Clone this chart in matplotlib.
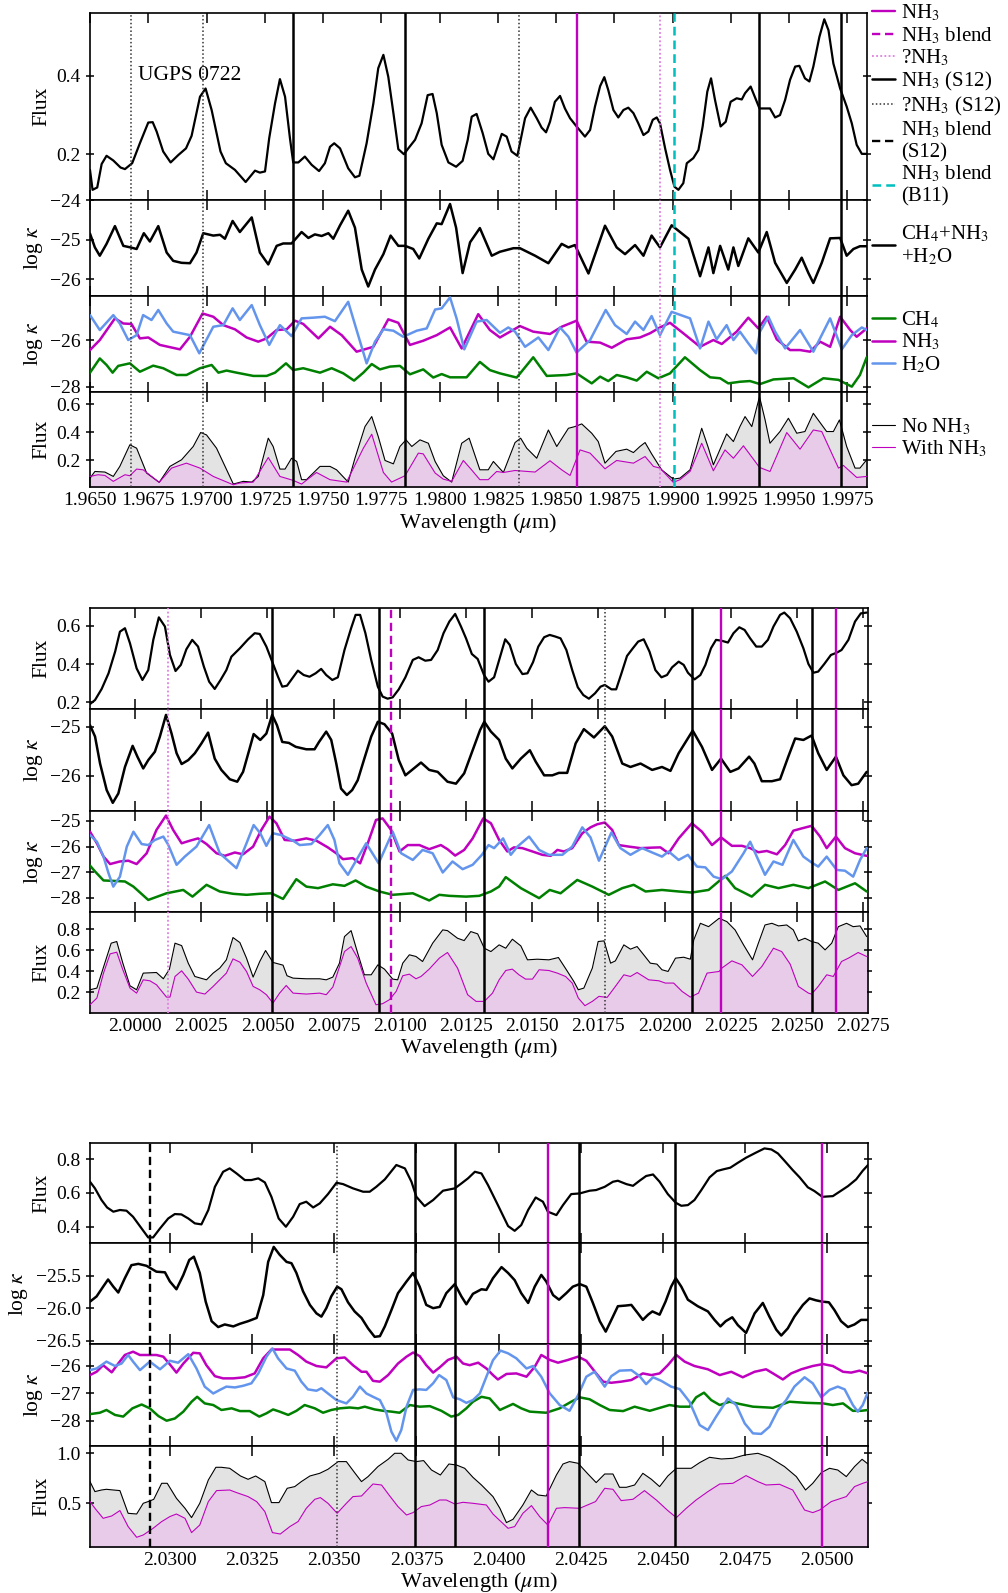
import numpy as np
import matplotlib
matplotlib.use("Agg")
import matplotlib.pyplot as plt
from matplotlib.lines import Line2D
from matplotlib.ticker import FuncFormatter, FormatStrFormatter, MultipleLocator

plt.rcParams['font.family'] = ['Liberation Serif', 'DejaVu Serif']
plt.rcParams['mathtext.fontset'] = 'stix'
plt.rcParams['font.size'] = 14
plt.rcParams['axes.labelsize'] = 15.5
plt.rcParams['axes.linewidth'] = 1.2
plt.rcParams['lines.solid_joinstyle'] = 'round'
plt.rcParams['lines.solid_capstyle'] = 'round'

# ---------------------------------------------------------------- data
# Window 1 (1.965 - 1.998 um)
g1_flux = [(1.96500,0.160),(1.96511,0.109),(1.96531,0.115),(1.96550,0.175),(1.96571,0.196),(1.96600,0.184),(1.96631,0.166),(1.96650,0.162),(1.96681,0.177),(1.96714,0.228),(1.96750,0.281),(1.96769,0.282),(1.96786,0.258),(1.96814,0.207),(1.96846,0.179),(1.96879,0.198),(1.96912,0.215),(1.96936,0.247),(1.96972,0.347),(1.96996,0.368),(1.97022,0.313),(1.97060,0.207),(1.97083,0.177),(1.97122,0.160),(1.97168,0.129),(1.97208,0.158),(1.97229,0.153),(1.97251,0.156),(1.97269,0.241),(1.97294,0.330),(1.97315,0.392),(1.97337,0.347),(1.97358,0.241),(1.97372,0.179),(1.97394,0.179),(1.97422,0.194),(1.97451,0.173),(1.97483,0.157),(1.97508,0.177),(1.97530,0.219),(1.97548,0.228),(1.97573,0.215),(1.97608,0.164),(1.97637,0.141),(1.97656,0.145),(1.97687,0.228),(1.97716,0.330),(1.97737,0.420),(1.97759,0.454),(1.97780,0.398),(1.97802,0.305),(1.97823,0.213),(1.97847,0.200),(1.97866,0.215),(1.97895,0.237),(1.97923,0.279),(1.97949,0.351),(1.97970,0.354),(1.97988,0.305),(1.98009,0.224),(1.98038,0.179),(1.98071,0.168),(1.98099,0.183),(1.98121,0.237),(1.98138,0.296),(1.98159,0.303),(1.98185,0.254),(1.98209,0.201),(1.98231,0.187),(1.98267,0.252),(1.98288,0.245),(1.98309,0.207),(1.98334,0.196),(1.98367,0.292),(1.98391,0.319),(1.98417,0.292),(1.98438,0.268),(1.98457,0.256),(1.98474,0.283),(1.98495,0.334),(1.98517,0.349),(1.98538,0.317),(1.98560,0.292),(1.98588,0.271),(1.98624,0.245),(1.98646,0.262),(1.98667,0.322),(1.98689,0.374),(1.98707,0.397),(1.98724,0.364),(1.98746,0.313),(1.98767,0.294),(1.98789,0.313),(1.98810,0.319),(1.98832,0.305),(1.98853,0.279),(1.98875,0.249),(1.98896,0.258),(1.98915,0.288),(1.98932,0.294),(1.98946,0.279),(1.98968,0.215),(1.98989,0.160),(1.99008,0.117),(1.99025,0.109),(1.99046,0.126),(1.99061,0.177),(1.99089,0.190),(1.99111,0.211),(1.99129,0.271),(1.99149,0.360),(1.99165,0.394),(1.99182,0.339),(1.99206,0.271),(1.99228,0.283),(1.99249,0.334),(1.99275,0.343),(1.99297,0.340),(1.99311,0.356),(1.99335,0.373),(1.99373,0.317),(1.99418,0.317),(1.99440,0.294),(1.99461,0.300),(1.99483,0.339),(1.99504,0.390),(1.99526,0.424),(1.99544,0.426),(1.99568,0.394),(1.99587,0.386),(1.99604,0.424),(1.99630,0.500),(1.99651,0.545),(1.99669,0.517),(1.99690,0.432),(1.99719,0.368),(1.99747,0.322),(1.99769,0.279),(1.99790,0.224),(1.99812,0.201),(1.99833,0.201)]
g1_total = [(1.96500,-24.85),(1.96521,-25.20),(1.96542,-25.41),(1.96571,-25.11),(1.96607,-24.66),(1.96643,-25.16),(1.96674,-25.20),(1.96700,-25.24),(1.96731,-24.84),(1.96757,-25.05),(1.96793,-24.66),(1.96829,-25.33),(1.96857,-25.54),(1.96893,-25.59),(1.96929,-25.60),(1.96957,-25.33),(1.96986,-24.84),(1.97029,-24.90),(1.97058,-24.88),(1.97079,-24.98),(1.97112,-24.53),(1.97143,-24.81),(1.97194,-24.44),(1.97229,-25.33),(1.97265,-25.63),(1.97301,-25.16),(1.97329,-25.10),(1.97365,-25.10),(1.97408,-24.81),(1.97437,-24.96),(1.97465,-24.87),(1.97494,-24.91),(1.97523,-24.84),(1.97544,-24.98),(1.97573,-24.64),(1.97608,-24.27),(1.97637,-24.70),(1.97666,-25.76),(1.97694,-26.19),(1.97723,-25.76),(1.97759,-25.37),(1.97790,-24.90),(1.97823,-25.16),(1.97852,-25.16),(1.97887,-25.24),(1.97913,-25.48),(1.97952,-24.98),(1.97988,-24.59),(1.98009,-24.61),(1.98045,-24.10),(1.98071,-24.70),(1.98099,-25.85),(1.98131,-25.07),(1.98173,-24.71),(1.98224,-25.41),(1.98259,-25.31),(1.98317,-25.22),(1.98345,-25.22),(1.98410,-25.41),(1.98467,-25.60),(1.98524,-25.11),(1.98553,-25.20),(1.98581,-25.14),(1.98639,-25.86),(1.98710,-24.65),(1.98760,-25.20),(1.98796,-25.37),(1.98839,-25.14),(1.98875,-25.41),(1.98910,-24.90),(1.98946,-25.20),(1.98996,-24.64),(1.99068,-24.98),(1.99118,-25.93),(1.99154,-25.20),(1.99175,-25.85),(1.99204,-25.16),(1.99239,-25.76),(1.99261,-25.20),(1.99282,-25.67),(1.99325,-24.97),(1.99368,-25.33),(1.99404,-24.81),(1.99440,-25.59),(1.99490,-26.10),(1.99526,-25.76),(1.99554,-25.46),(1.99583,-25.85),(1.99604,-26.10),(1.99640,-25.59),(1.99676,-24.97),(1.99719,-24.96),(1.99747,-25.41),(1.99776,-25.24),(1.99804,-25.17),(1.99833,-25.17)]
g1_ch4 = [(1.96500,-27.40),(1.96542,-26.79),(1.96571,-27.07),(1.96597,-27.40),(1.96621,-27.11),(1.96671,-27.00),(1.96714,-27.36),(1.96771,-27.10),(1.96814,-27.21),(1.96872,-27.50),(1.96914,-27.50),(1.96972,-27.21),(1.97022,-27.07),(1.97051,-27.40),(1.97086,-27.31),(1.97129,-27.40),(1.97201,-27.54),(1.97258,-27.54),(1.97294,-27.40),(1.97341,-27.00),(1.97372,-27.29),(1.97415,-27.21),(1.97487,-27.40),(1.97537,-27.21),(1.97587,-27.43),(1.97633,-27.74),(1.97673,-27.40),(1.97709,-27.03),(1.97744,-27.26),(1.97787,-27.14),(1.97830,-27.11),(1.97873,-27.47),(1.97930,-27.26),(1.97973,-27.61),(1.98009,-27.46),(1.98045,-27.60),(1.98116,-27.60),(1.98173,-26.94),(1.98216,-27.29),(1.98259,-27.43),(1.98331,-27.61),(1.98402,-26.74),(1.98460,-27.54),(1.98546,-27.50),(1.98588,-27.43),(1.98653,-27.86),(1.98689,-27.57),(1.98724,-27.76),(1.98760,-27.50),(1.98803,-27.60),(1.98846,-27.74),(1.98889,-27.36),(1.98939,-27.64),(1.98989,-27.43),(1.99053,-26.74),(1.99118,-27.29),(1.99161,-27.60),(1.99204,-27.64),(1.99239,-27.86),(1.99289,-27.79),(1.99332,-27.76),(1.99375,-27.89),(1.99433,-27.69),(1.99519,-27.64),(1.99583,-28.03),(1.99647,-27.64),(1.99712,-27.71),(1.99769,-28.00),(1.99804,-27.50),(1.99833,-26.74)]
g1_nh3 = [(1.96500,-26.43),(1.96542,-26.00),(1.96607,-25.07),(1.96643,-25.29),(1.96678,-25.31),(1.96714,-25.93),(1.96750,-25.89),(1.96800,-26.21),(1.96836,-26.29),(1.96886,-26.40),(1.96929,-25.86),(1.96983,-24.86),(1.97029,-25.00),(1.97072,-25.36),(1.97122,-25.54),(1.97172,-25.89),(1.97222,-26.07),(1.97258,-25.93),(1.97301,-25.57),(1.97344,-25.54),(1.97380,-25.17),(1.97415,-25.31),(1.97480,-25.93),(1.97530,-25.43),(1.97580,-25.79),(1.97644,-26.50),(1.97716,-26.29),(1.97780,-25.11),(1.97823,-25.26),(1.97873,-26.21),(1.97930,-26.03),(1.97988,-25.79),(1.98045,-25.46),(1.98095,-26.36),(1.98166,-24.89),(1.98216,-25.57),(1.98259,-25.89),(1.98345,-25.40),(1.98402,-25.64),(1.98474,-25.74),(1.98524,-25.43),(1.98588,-25.17),(1.98631,-26.07),(1.98689,-26.11),(1.98739,-26.33),(1.98803,-25.97),(1.98860,-25.89),(1.98903,-25.71),(1.98946,-25.46),(1.98989,-25.26),(1.99046,-25.71),(1.99118,-26.29),(1.99175,-26.00),(1.99211,-26.17),(1.99275,-25.64),(1.99325,-25.04),(1.99368,-25.50),(1.99404,-25.00),(1.99447,-25.97),(1.99504,-26.43),(1.99547,-26.43),(1.99590,-26.50),(1.99633,-26.07),(1.99676,-26.29),(1.99719,-25.00),(1.99762,-25.57),(1.99790,-25.86),(1.99833,-25.50)]
g1_h2o = [(1.96500,-24.93),(1.96542,-25.57),(1.96600,-24.93),(1.96628,-25.29),(1.96664,-26.00),(1.96700,-25.79),(1.96728,-24.93),(1.96764,-25.14),(1.96793,-24.71),(1.96829,-25.29),(1.96857,-25.64),(1.96929,-25.79),(1.96969,-26.57),(1.97029,-25.43),(1.97072,-25.36),(1.97112,-24.64),(1.97143,-25.14),(1.97194,-24.50),(1.97229,-25.36),(1.97269,-26.21),(1.97315,-25.36),(1.97365,-25.83),(1.97408,-25.07),(1.97458,-25.04),(1.97508,-25.00),(1.97551,-25.19),(1.97608,-24.36),(1.97644,-25.57),(1.97687,-27.00),(1.97723,-26.07),(1.97759,-25.54),(1.97802,-25.60),(1.97844,-25.86),(1.97902,-25.60),(1.97945,-25.50),(1.97981,-24.69),(1.98009,-24.64),(1.98045,-24.17),(1.98073,-25.07),(1.98106,-26.40),(1.98159,-25.21),(1.98202,-25.14),(1.98259,-25.69),(1.98295,-25.46),(1.98324,-25.64),(1.98367,-26.29),(1.98424,-25.89),(1.98467,-26.43),(1.98517,-25.46),(1.98553,-25.86),(1.98588,-26.54),(1.98646,-26.00),(1.98713,-24.71),(1.98753,-25.36),(1.98803,-25.74),(1.98839,-25.21),(1.98875,-25.57),(1.98910,-24.97),(1.98946,-25.79),(1.98996,-24.79),(1.99075,-25.07),(1.99118,-26.36),(1.99154,-25.21),(1.99189,-25.97),(1.99232,-25.36),(1.99261,-26.00),(1.99289,-25.64),(1.99325,-26.14),(1.99358,-26.57),(1.99375,-25.64),(1.99411,-25.00),(1.99440,-25.64),(1.99483,-26.36),(1.99547,-25.57),(1.99604,-26.50),(1.99676,-25.07),(1.99726,-26.40),(1.99769,-25.79),(1.99812,-25.46),(1.99833,-25.57)]
g1_no_nh3 = [(1.96500,0.075),(1.96521,0.122),(1.96564,0.118),(1.96600,0.087),(1.96628,0.158),(1.96671,0.311),(1.96700,0.287),(1.96743,0.111),(1.96797,0.045),(1.96843,0.158),(1.96893,0.205),(1.96943,0.299),(1.96975,0.398),(1.97000,0.381),(1.97043,0.287),(1.97115,0.033),(1.97158,0.052),(1.97194,0.047),(1.97222,0.087),(1.97265,0.358),(1.97286,0.299),(1.97315,0.139),(1.97337,0.139),(1.97365,0.216),(1.97387,0.193),(1.97408,0.064),(1.97429,0.064),(1.97487,0.158),(1.97530,0.158),(1.97558,0.134),(1.97608,0.047),(1.97637,0.216),(1.97680,0.440),(1.97709,0.511),(1.97737,0.369),(1.97766,0.200),(1.97802,0.176),(1.97830,0.299),(1.97856,0.346),(1.97881,0.299),(1.97916,0.346),(1.97952,0.322),(1.97981,0.193),(1.98016,0.092),(1.98052,0.047),(1.98095,0.322),(1.98127,0.358),(1.98173,0.134),(1.98209,0.134),(1.98231,0.193),(1.98274,0.115),(1.98324,0.327),(1.98348,0.358),(1.98374,0.287),(1.98417,0.216),(1.98467,0.416),(1.98503,0.299),(1.98553,0.428),(1.98581,0.440),(1.98610,0.459),(1.98653,0.393),(1.98681,0.334),(1.98710,0.181),(1.98757,0.264),(1.98803,0.280),(1.98832,0.256),(1.98860,0.299),(1.98882,0.327),(1.98910,0.247),(1.98953,0.134),(1.99003,0.068),(1.99032,0.075),(1.99075,0.134),(1.99125,0.428),(1.99154,0.287),(1.99175,0.169),(1.99232,0.388),(1.99261,0.334),(1.99289,0.440),(1.99311,0.511),(1.99340,0.440),(1.99373,0.652),(1.99397,0.487),(1.99418,0.322),(1.99461,0.405),(1.99497,0.499),(1.99533,0.393),(1.99568,0.405),(1.99604,0.534),(1.99661,0.405),(1.99690,0.405),(1.99716,0.487),(1.99747,0.299),(1.99783,0.146),(1.99804,0.146),(1.99833,0.205)]
g1_with_nh3 = [(1.96500,0.087),(1.96535,0.099),(1.96564,0.094),(1.96600,0.052),(1.96650,0.099),(1.96671,0.092),(1.96700,0.139),(1.96728,0.134),(1.96797,0.045),(1.96850,0.146),(1.96914,0.181),(1.96972,0.146),(1.97029,0.087),(1.97115,0.028),(1.97143,0.040),(1.97201,0.047),(1.97265,0.221),(1.97315,0.087),(1.97372,0.059),(1.97408,0.033),(1.97472,0.115),(1.97530,0.064),(1.97601,0.047),(1.97673,0.287),(1.97709,0.386),(1.97759,0.115),(1.97794,0.047),(1.97852,0.092),(1.97909,0.252),(1.97930,0.247),(1.97981,0.111),(1.98016,0.068),(1.98052,0.052),(1.98102,0.200),(1.98131,0.146),(1.98173,0.064),(1.98209,0.064),(1.98245,0.122),(1.98274,0.115),(1.98324,0.129),(1.98410,0.118),(1.98474,0.198),(1.98524,0.134),(1.98560,0.094),(1.98603,0.275),(1.98646,0.252),(1.98710,0.141),(1.98760,0.200),(1.98832,0.181),(1.98882,0.228),(1.98918,0.158),(1.98946,0.146),(1.99003,0.045),(1.99032,0.064),(1.99075,0.122),(1.99125,0.322),(1.99175,0.127),(1.99225,0.275),(1.99261,0.216),(1.99304,0.304),(1.99373,0.151),(1.99418,0.122),(1.99490,0.398),(1.99547,0.280),(1.99604,0.416),(1.99640,0.405),(1.99712,0.146),(1.99733,0.165),(1.99790,0.080),(1.99833,0.087)]

# Window 2 (1.998 - 2.028 um)
g2_flux = [(1.99830,0.191),(1.99849,0.212),(1.99874,0.270),(1.99900,0.352),(1.99925,0.466),(1.99943,0.570),(1.99962,0.588),(1.99981,0.509),(2.00006,0.378),(2.00028,0.317),(2.00050,0.369),(2.00069,0.527),(2.00090,0.645),(2.00113,0.597),(2.00132,0.448),(2.00153,0.364),(2.00173,0.396),(2.00194,0.478),(2.00216,0.527),(2.00238,0.492),(2.00260,0.387),(2.00280,0.308),(2.00301,0.270),(2.00323,0.317),(2.00345,0.369),(2.00364,0.439),(2.00396,0.483),(2.00427,0.530),(2.00452,0.562),(2.00471,0.558),(2.00496,0.492),(2.00518,0.413),(2.00540,0.334),(2.00556,0.282),(2.00574,0.287),(2.00594,0.326),(2.00615,0.366),(2.00637,0.343),(2.00659,0.334),(2.00682,0.352),(2.00703,0.375),(2.00722,0.343),(2.00745,0.317),(2.00766,0.331),(2.00791,0.474),(2.00816,0.588),(2.00833,0.658),(2.00850,0.658),(2.00870,0.562),(2.00892,0.422),(2.00917,0.282),(2.00935,0.230),(2.00954,0.219),(2.00973,0.226),(2.00996,0.268),(2.01021,0.331),(2.01049,0.422),(2.01071,0.436),(2.01096,0.418),(2.01118,0.422),(2.01143,0.474),(2.01165,0.562),(2.01187,0.623),(2.01209,0.663),(2.01231,0.597),(2.01250,0.535),(2.01272,0.453),(2.01294,0.427),(2.01318,0.343),(2.01335,0.308),(2.01356,0.331),(2.01377,0.431),(2.01398,0.530),(2.01415,0.501),(2.01438,0.401),(2.01463,0.348),(2.01482,0.352),(2.01503,0.410),(2.01523,0.492),(2.01545,0.541),(2.01566,0.553),(2.01586,0.545),(2.01607,0.535),(2.01629,0.474),(2.01651,0.369),(2.01672,0.279),(2.01693,0.238),(2.01714,0.219),(2.01737,0.247),(2.01758,0.282),(2.01774,0.291),(2.01799,0.268),(2.01817,0.268),(2.01837,0.352),(2.01858,0.443),(2.01880,0.483),(2.01900,0.518),(2.01921,0.530),(2.01943,0.465),(2.01965,0.369),(2.01988,0.331),(2.02009,0.343),(2.02028,0.383),(2.02053,0.413),(2.02072,0.396),(2.02088,0.355),(2.02113,0.320),(2.02135,0.343),(2.02154,0.396),(2.02175,0.483),(2.02194,0.527),(2.02214,0.523),(2.02239,0.513),(2.02260,0.562),(2.02282,0.593),(2.02302,0.579),(2.02323,0.535),(2.02346,0.492),(2.02367,0.492),(2.02390,0.527),(2.02411,0.597),(2.02436,0.658),(2.02452,0.670),(2.02474,0.640),(2.02499,0.570),(2.02524,0.483),(2.02543,0.401),(2.02562,0.355),(2.02580,0.361),(2.02603,0.401),(2.02628,0.448),(2.02650,0.460),(2.02668,0.474),(2.02694,0.527),(2.02719,0.623),(2.02741,0.666),(2.02763,0.670)]
g2_total = [(1.99830,-24.97),(1.99849,-25.20),(1.99868,-25.75),(1.99893,-26.29),(1.99916,-26.55),(1.99937,-26.36),(1.99962,-25.82),(1.99991,-25.39),(2.00009,-25.61),(2.00031,-25.85),(2.00050,-25.68),(2.00075,-25.51),(2.00094,-25.20),(2.00117,-24.76),(2.00138,-25.14),(2.00157,-25.54),(2.00176,-25.76),(2.00201,-25.68),(2.00226,-25.54),(2.00251,-25.34),(2.00276,-25.12),(2.00301,-25.65),(2.00326,-25.88),(2.00358,-26.07),(2.00386,-26.12),(2.00408,-25.92),(2.00431,-25.48),(2.00448,-25.15),(2.00473,-25.27),(2.00496,-25.14),(2.00518,-24.76),(2.00536,-24.97),(2.00556,-25.31),(2.00581,-25.33),(2.00607,-25.41),(2.00647,-25.46),(2.00678,-25.46),(2.00695,-25.31),(2.00722,-25.10),(2.00741,-25.27),(2.00760,-25.75),(2.00778,-26.26),(2.00800,-26.39),(2.00820,-26.29),(2.00841,-26.09),(2.00866,-25.65),(2.00892,-25.20),(2.00917,-24.90),(2.00942,-24.95),(2.00971,-25.14),(2.00996,-25.68),(2.01021,-25.99),(2.01046,-25.88),(2.01080,-25.73),(2.01111,-25.88),(2.01143,-25.92),(2.01180,-26.12),(2.01212,-26.16),(2.01243,-25.95),(2.01275,-25.48),(2.01303,-25.07),(2.01319,-24.90),(2.01344,-25.10),(2.01375,-25.27),(2.01400,-25.65),(2.01425,-25.85),(2.01457,-25.65),(2.01491,-25.48),(2.01513,-25.71),(2.01545,-25.99),(2.01576,-25.99),(2.01601,-25.94),(2.01632,-25.94),(2.01664,-25.34),(2.01695,-25.05),(2.01733,-25.22),(2.01774,-24.99),(2.01802,-25.20),(2.01840,-25.75),(2.01871,-25.82),(2.01909,-25.75),(2.01953,-25.88),(2.01990,-25.82),(2.02022,-25.90),(2.02053,-25.54),(2.02106,-25.08),(2.02141,-25.41),(2.02179,-25.88),(2.02213,-25.65),(2.02248,-25.92),(2.02279,-25.85),(2.02319,-25.61),(2.02339,-25.75),(2.02367,-26.11),(2.02405,-26.11),(2.02436,-26.07),(2.02467,-25.61),(2.02493,-25.24),(2.02524,-25.27),(2.02555,-25.18),(2.02580,-25.54),(2.02612,-25.88),(2.02647,-25.61),(2.02675,-25.99),(2.02706,-26.19),(2.02731,-26.16),(2.02763,-25.92)]
g2_ch4 = [(1.99830,-26.74),(1.99849,-26.97),(1.99881,-27.32),(1.99925,-27.34),(1.99962,-27.36),(1.99994,-27.56),(2.00050,-28.08),(2.00119,-27.82),(2.00182,-27.69),(2.00217,-27.95),(2.00270,-27.49),(2.00320,-27.75),(2.00370,-27.84),(2.00421,-27.88),(2.00471,-27.84),(2.00515,-27.82),(2.00559,-28.04),(2.00609,-27.27),(2.00647,-27.56),(2.00691,-27.62),(2.00747,-27.47),(2.00791,-27.53),(2.00833,-27.32),(2.00873,-27.56),(2.00923,-27.75),(2.00973,-27.88),(2.01049,-27.82),(2.01111,-28.10),(2.01149,-27.88),(2.01187,-27.92),(2.01250,-27.95),(2.01300,-27.92),(2.01344,-27.75),(2.01375,-27.56),(2.01400,-27.19),(2.01457,-27.62),(2.01526,-28.01),(2.01566,-27.69),(2.01607,-27.82),(2.01670,-27.30),(2.01727,-27.56),(2.01789,-27.88),(2.01840,-27.62),(2.01883,-27.49),(2.01928,-27.75),(2.01990,-27.69),(2.02053,-27.75),(2.02103,-27.79),(2.02166,-27.69),(2.02229,-27.14),(2.02266,-27.62),(2.02329,-27.95),(2.02379,-27.49),(2.02430,-27.62),(2.02486,-27.49),(2.02543,-27.62),(2.02606,-27.36),(2.02656,-27.69),(2.02719,-27.43),(2.02763,-27.75)]
g2_nh3 = [(1.99830,-25.42),(1.99856,-25.87),(1.99881,-26.39),(1.99906,-26.68),(1.99943,-26.58),(1.99975,-26.55),(2.00006,-26.68),(2.00044,-26.26),(2.00081,-25.35),(2.00117,-24.79),(2.00144,-25.35),(2.00176,-25.87),(2.00207,-25.77),(2.00238,-25.68),(2.00270,-25.90),(2.00308,-26.26),(2.00339,-26.36),(2.00377,-26.23),(2.00408,-26.30),(2.00446,-26.00),(2.00477,-25.35),(2.00508,-24.83),(2.00534,-25.09),(2.00565,-25.74),(2.00603,-25.77),(2.00647,-25.68),(2.00685,-25.77),(2.00728,-26.03),(2.00760,-26.26),(2.00785,-26.49),(2.00822,-26.45),(2.00850,-26.65),(2.00879,-25.87),(2.00910,-24.96),(2.00935,-24.90),(2.00967,-25.35),(2.00999,-26.19),(2.01030,-25.94),(2.01074,-25.94),(2.01111,-26.10),(2.01155,-25.94),(2.01180,-26.10),(2.01209,-26.35),(2.01243,-26.13),(2.01275,-25.68),(2.01315,-24.90),(2.01344,-25.09),(2.01375,-25.74),(2.01406,-26.19),(2.01431,-26.03),(2.01463,-26.06),(2.01501,-26.19),(2.01538,-26.32),(2.01570,-26.36),(2.01595,-26.13),(2.01620,-26.19),(2.01651,-26.06),(2.01689,-25.48),(2.01720,-25.25),(2.01745,-25.13),(2.01774,-25.06),(2.01802,-25.35),(2.01827,-25.94),(2.01865,-26.00),(2.01909,-26.06),(2.01953,-26.04),(2.01984,-26.03),(2.02015,-26.26),(2.02053,-25.68),(2.02103,-25.09),(2.02141,-25.42),(2.02179,-25.94),(2.02213,-25.64),(2.02254,-25.97),(2.02292,-25.97),(2.02323,-26.06),(2.02354,-26.22),(2.02386,-26.17),(2.02424,-26.30),(2.02455,-25.94),(2.02486,-25.38),(2.02518,-25.29),(2.02555,-25.19),(2.02587,-25.61),(2.02612,-26.06),(2.02647,-25.61),(2.02681,-26.06),(2.02719,-26.26),(2.02763,-26.36)]
g2_h2o = [(1.99830,-25.55),(1.99856,-25.81),(1.99881,-26.39),(1.99900,-27.04),(1.99918,-27.56),(1.99943,-27.17),(1.99969,-26.00),(1.99994,-25.42),(2.00025,-25.90),(2.00050,-25.94),(2.00075,-25.74),(2.00107,-25.61),(2.00126,-25.94),(2.00157,-26.71),(2.00188,-26.39),(2.00232,-26.00),(2.00280,-25.16),(2.00320,-26.26),(2.00383,-26.84),(2.00421,-25.87),(2.00448,-25.16),(2.00473,-25.48),(2.00496,-25.97),(2.00521,-25.48),(2.00552,-25.55),(2.00597,-25.77),(2.00622,-25.94),(2.00666,-25.90),(2.00697,-25.55),(2.00728,-25.16),(2.00753,-25.74),(2.00772,-26.65),(2.00804,-27.10),(2.00829,-26.65),(2.00873,-25.87),(2.00920,-26.65),(2.00973,-25.42),(2.01005,-26.26),(2.01049,-26.52),(2.01086,-26.13),(2.01124,-26.26),(2.01162,-27.01),(2.01199,-26.58),(2.01237,-26.88),(2.01275,-26.71),(2.01310,-26.32),(2.01335,-25.94),(2.01356,-26.06),(2.01390,-25.68),(2.01419,-26.32),(2.01444,-26.00),(2.01488,-25.61),(2.01526,-26.13),(2.01563,-26.32),(2.01614,-26.32),(2.01651,-26.00),(2.01689,-25.25),(2.01720,-25.64),(2.01752,-26.55),(2.01799,-25.45),(2.01833,-26.06),(2.01871,-26.32),(2.01915,-26.06),(2.01953,-26.23),(2.01990,-26.39),(2.02015,-26.19),(2.02053,-26.52),(2.02088,-26.32),(2.02122,-26.78),(2.02154,-26.81),(2.02185,-27.17),(2.02216,-27.27),(2.02254,-26.97),(2.02298,-26.26),(2.02323,-25.81),(2.02348,-26.39),(2.02379,-27.10),(2.02411,-26.58),(2.02445,-26.71),(2.02486,-25.74),(2.02524,-26.39),(2.02555,-26.62),(2.02580,-26.78),(2.02612,-26.39),(2.02650,-26.91),(2.02681,-26.94),(2.02712,-27.17),(2.02738,-26.52),(2.02763,-26.06)]
g2_no_nh3 = [(1.99830,0.222),(1.99856,0.238),(1.99881,0.438),(1.99910,0.667),(1.99931,0.683),(1.99954,0.476),(1.99981,0.260),(2.00006,0.222),(2.00031,0.381),(2.00081,0.387),(2.00107,0.327),(2.00130,0.419),(2.00151,0.667),(2.00176,0.644),(2.00201,0.476),(2.00226,0.349),(2.00270,0.317),(2.00295,0.381),(2.00320,0.429),(2.00345,0.508),(2.00370,0.721),(2.00396,0.673),(2.00421,0.524),(2.00446,0.343),(2.00471,0.492),(2.00493,0.597),(2.00515,0.508),(2.00521,0.483),(2.00559,0.457),(2.00574,0.356),(2.00597,0.333),(2.00647,0.327),(2.00697,0.327),(2.00722,0.317),(2.00747,0.343),(2.00772,0.476),(2.00791,0.730),(2.00816,0.787),(2.00841,0.571),(2.00866,0.365),(2.00892,0.365),(2.00917,0.460),(2.00942,0.419),(2.00973,0.324),(2.00992,0.317),(2.01011,0.476),(2.01036,0.556),(2.01061,0.540),(2.01086,0.492),(2.01124,0.667),(2.01162,0.794),(2.01180,0.787),(2.01218,0.714),(2.01243,0.692),(2.01268,0.778),(2.01294,0.756),(2.01319,0.619),(2.01344,0.587),(2.01375,0.651),(2.01400,0.619),(2.01425,0.705),(2.01457,0.641),(2.01482,0.508),(2.01519,0.514),(2.01563,0.508),(2.01599,0.530),(2.01629,0.413),(2.01657,0.302),(2.01674,0.222),(2.01695,0.238),(2.01727,0.429),(2.01749,0.683),(2.01771,0.689),(2.01796,0.476),(2.01814,0.498),(2.01846,0.651),(2.01871,0.610),(2.01896,0.635),(2.01921,0.556),(2.01946,0.476),(2.01971,0.467),(2.01990,0.413),(2.02013,0.397),(2.02041,0.524),(2.02072,0.533),(2.02097,0.514),(2.02110,0.698),(2.02135,0.857),(2.02166,0.825),(2.02206,0.905),(2.02235,0.873),(2.02266,0.794),(2.02298,0.651),(2.02332,0.508),(2.02354,0.667),(2.02379,0.841),(2.02405,0.857),(2.02430,0.832),(2.02461,0.841),(2.02486,0.794),(2.02505,0.689),(2.02530,0.714),(2.02555,0.683),(2.02580,0.667),(2.02606,0.603),(2.02631,0.667),(2.02656,0.825),(2.02687,0.857),(2.02712,0.825),(2.02738,0.832),(2.02763,0.730)]
g2_with_nh3 = [(1.99830,0.079),(1.99856,0.143),(1.99881,0.381),(1.99906,0.565),(1.99931,0.581),(1.99954,0.413),(1.99981,0.238),(2.00006,0.190),(2.00031,0.317),(2.00056,0.308),(2.00081,0.270),(2.00119,0.152),(2.00132,0.152),(2.00151,0.349),(2.00176,0.403),(2.00201,0.324),(2.00232,0.200),(2.00264,0.181),(2.00295,0.254),(2.00345,0.381),(2.00370,0.517),(2.00396,0.486),(2.00421,0.397),(2.00446,0.254),(2.00471,0.222),(2.00496,0.175),(2.00521,0.095),(2.00546,0.190),(2.00571,0.263),(2.00597,0.190),(2.00647,0.181),(2.00697,0.190),(2.00722,0.175),(2.00747,0.248),(2.00791,0.587),(2.00816,0.635),(2.00841,0.524),(2.00873,0.286),(2.00910,0.079),(2.00935,0.089),(2.00961,0.127),(2.00986,0.206),(2.01011,0.356),(2.01036,0.371),(2.01061,0.327),(2.01080,0.349),(2.01111,0.419),(2.01149,0.524),(2.01180,0.578),(2.01218,0.429),(2.01256,0.175),(2.01288,0.111),(2.01319,0.111),(2.01350,0.190),(2.01375,0.317),(2.01400,0.406),(2.01425,0.419),(2.01450,0.365),(2.01475,0.324),(2.01501,0.324),(2.01526,0.413),(2.01563,0.406),(2.01595,0.381),(2.01626,0.349),(2.01651,0.286),(2.01674,0.143),(2.01699,0.070),(2.01727,0.111),(2.01752,0.159),(2.01783,0.149),(2.01814,0.254),(2.01846,0.365),(2.01871,0.349),(2.01896,0.387),(2.01940,0.317),(2.01978,0.308),(2.02003,0.286),(2.02034,0.286),(2.02066,0.206),(2.02097,0.152),(2.02128,0.190),(2.02160,0.381),(2.02206,0.397),(2.02216,0.429),(2.02254,0.498),(2.02292,0.460),(2.02332,0.349),(2.02367,0.444),(2.02411,0.619),(2.02442,0.587),(2.02474,0.467),(2.02505,0.254),(2.02543,0.190),(2.02555,0.181),(2.02580,0.254),(2.02612,0.365),(2.02637,0.349),(2.02668,0.492),(2.02694,0.524),(2.02731,0.578),(2.02763,0.540)]

# Window 3 (2.028 - 2.051 um)
g3_flux = [(2.02757,0.666),(2.02772,0.627),(2.02792,0.558),(2.02809,0.514),(2.02828,0.489),(2.02848,0.499),(2.02868,0.495),(2.02888,0.459),(2.02914,0.390),(2.02934,0.337),(2.02949,0.337),(2.02970,0.390),(2.02995,0.449),(2.03015,0.475),(2.03035,0.473),(2.03056,0.449),(2.03076,0.420),(2.03096,0.414),(2.03117,0.499),(2.03137,0.636),(2.03162,0.725),(2.03182,0.745),(2.03203,0.715),(2.03228,0.676),(2.03248,0.676),(2.03269,0.686),(2.03289,0.662),(2.03309,0.577),(2.03331,0.449),(2.03353,0.400),(2.03375,0.459),(2.03395,0.534),(2.03415,0.548),(2.03436,0.514),(2.03456,0.538),(2.03481,0.593),(2.03507,0.660),(2.03527,0.652),(2.03557,0.627),(2.03588,0.607),(2.03608,0.607),(2.03628,0.636),(2.03654,0.680),(2.03689,0.765),(2.03715,0.745),(2.03735,0.666),(2.03750,0.577),(2.03775,0.522),(2.03801,0.558),(2.03831,0.613),(2.03867,0.627),(2.03887,0.656),(2.03907,0.686),(2.03928,0.725),(2.03948,0.715),(2.03968,0.646),(2.03998,0.528),(2.04029,0.404),(2.04049,0.376),(2.04069,0.410),(2.04090,0.499),(2.04113,0.573),(2.04135,0.548),(2.04150,0.489),(2.04176,0.469),(2.04196,0.528),(2.04221,0.593),(2.04247,0.597),(2.04277,0.613),(2.04297,0.617),(2.04323,0.636),(2.04348,0.666),(2.04363,0.672),(2.04389,0.652),(2.04409,0.642),(2.04429,0.672),(2.04449,0.700),(2.04470,0.709),(2.04490,0.666),(2.04515,0.593),(2.04539,0.542),(2.04556,0.524),(2.04576,0.528),(2.04596,0.558),(2.04617,0.617),(2.04642,0.692),(2.04664,0.729),(2.04683,0.739),(2.04705,0.749),(2.04728,0.778),(2.04753,0.808),(2.04784,0.839),(2.04809,0.863),(2.04830,0.857),(2.04850,0.833),(2.04870,0.790),(2.04895,0.735),(2.04916,0.692),(2.04941,0.633),(2.04961,0.611),(2.04985,0.577),(2.05017,0.581),(2.05042,0.613),(2.05063,0.640),(2.05088,0.680),(2.05108,0.731),(2.05124,0.765)]
g3_total = [(2.02757,-25.90),(2.02777,-25.82),(2.02797,-25.67),(2.02812,-25.56),(2.02828,-25.67),(2.02843,-25.76),(2.02863,-25.54),(2.02883,-25.34),(2.02904,-25.32),(2.02929,-25.35),(2.02959,-25.44),(2.02985,-25.45),(2.03000,-25.59),(2.03020,-25.71),(2.03041,-25.49),(2.03059,-25.26),(2.03073,-25.21),(2.03091,-25.46),(2.03109,-25.90),(2.03127,-26.20),(2.03147,-26.29),(2.03167,-26.25),(2.03193,-26.28),(2.03213,-26.24),(2.03238,-26.20),(2.03264,-26.15),(2.03284,-25.80),(2.03299,-25.29),(2.03316,-25.06),(2.03334,-25.18),(2.03355,-25.29),(2.03370,-25.31),(2.03385,-25.46),(2.03405,-25.74),(2.03426,-25.95),(2.03446,-26.08),(2.03461,-26.13),(2.03476,-26.00),(2.03491,-25.82),(2.03509,-25.67),(2.03522,-25.71),(2.03542,-25.91),(2.03562,-26.05),(2.03583,-26.15),(2.03603,-26.31),(2.03623,-26.44),(2.03639,-26.43),(2.03654,-26.28),(2.03674,-26.03),(2.03694,-25.77),(2.03720,-25.59),(2.03740,-25.46),(2.03760,-25.67),(2.03780,-25.95),(2.03801,-26.00),(2.03821,-25.98),(2.03841,-25.77),(2.03867,-25.63),(2.03887,-25.82),(2.03902,-25.94),(2.03922,-25.78),(2.03948,-25.71),(2.03963,-25.72),(2.03983,-25.54),(2.04009,-25.37),(2.04029,-25.46),(2.04049,-25.57),(2.04069,-25.77),(2.04090,-25.92),(2.04110,-25.67),(2.04130,-25.49),(2.04145,-25.59),(2.04166,-25.80),(2.04184,-25.87),(2.04206,-25.77),(2.04226,-25.67),(2.04247,-25.63),(2.04267,-25.67),(2.04287,-25.92),(2.04308,-26.20),(2.04326,-26.36),(2.04346,-26.15),(2.04363,-25.97),(2.04387,-25.96),(2.04404,-25.95),(2.04424,-26.08),(2.04439,-26.18),(2.04455,-26.10),(2.04468,-26.05),(2.04490,-26.10),(2.04508,-25.90),(2.04525,-25.67),(2.04539,-25.54),(2.04556,-25.67),(2.04576,-25.87),(2.04606,-25.97),(2.04637,-26.05),(2.04657,-26.18),(2.04675,-26.28),(2.04691,-26.20),(2.04711,-26.14),(2.04728,-26.26),(2.04753,-26.38),(2.04779,-26.08),(2.04804,-25.92),(2.04824,-26.13),(2.04845,-26.33),(2.04860,-26.42),(2.04880,-26.31),(2.04900,-26.13),(2.04926,-25.95),(2.04946,-25.85),(2.04966,-25.88),(2.04985,-25.90),(2.05005,-25.91),(2.05022,-26.03),(2.05042,-26.20),(2.05063,-26.29),(2.05083,-26.25),(2.05103,-26.18),(2.05124,-26.18)]
g3_ch4 = [(2.02757,-27.76),(2.02787,-27.71),(2.02807,-27.61),(2.02833,-27.79),(2.02858,-27.85),(2.02886,-27.55),(2.02914,-27.41),(2.02939,-27.55),(2.02965,-27.83),(2.02990,-28.00),(2.03015,-27.92),(2.03041,-27.67),(2.03066,-27.31),(2.03083,-27.13),(2.03106,-27.37),(2.03132,-27.43),(2.03157,-27.61),(2.03188,-27.55),(2.03213,-27.65),(2.03243,-27.65),(2.03272,-27.85),(2.03294,-27.73),(2.03314,-27.59),(2.03334,-27.67),(2.03360,-27.79),(2.03385,-27.64),(2.03410,-27.43),(2.03441,-27.55),(2.03466,-27.71),(2.03491,-27.61),(2.03517,-27.55),(2.03547,-27.52),(2.03573,-27.55),(2.03593,-27.49),(2.03623,-27.59),(2.03649,-27.64),(2.03674,-27.67),(2.03699,-27.71),(2.03730,-27.43),(2.03760,-27.49),(2.03791,-27.47),(2.03826,-27.64),(2.03856,-27.85),(2.03877,-27.79),(2.03902,-27.55),(2.03922,-27.31),(2.03948,-27.13),(2.03973,-27.19),(2.04004,-27.61),(2.04044,-27.39),(2.04069,-27.55),(2.04095,-27.67),(2.04145,-27.71),(2.04186,-27.55),(2.04221,-27.31),(2.04247,-27.15),(2.04277,-27.22),(2.04308,-27.43),(2.04338,-27.61),(2.04379,-27.65),(2.04414,-27.49),(2.04460,-27.64),(2.04520,-27.43),(2.04551,-27.49),(2.04581,-27.49),(2.04601,-27.15),(2.04625,-26.98),(2.04647,-27.25),(2.04673,-27.43),(2.04703,-27.31),(2.04733,-27.39),(2.04774,-27.49),(2.04835,-27.53),(2.04885,-27.31),(2.04936,-27.35),(2.04987,-27.37),(2.05017,-27.43),(2.05048,-27.37),(2.05078,-27.64),(2.05103,-27.64),(2.05124,-27.61)]
g3_nh3 = [(2.02757,-26.34),(2.02777,-26.22),(2.02797,-25.98),(2.02823,-26.24),(2.02843,-25.92),(2.02863,-25.61),(2.02888,-25.49),(2.02909,-25.61),(2.02934,-25.61),(2.02959,-25.61),(2.02980,-25.67),(2.03002,-25.98),(2.03020,-26.25),(2.03041,-25.92),(2.03071,-25.53),(2.03091,-25.55),(2.03111,-25.98),(2.03137,-26.38),(2.03162,-26.46),(2.03193,-26.46),(2.03228,-26.42),(2.03258,-26.28),(2.03284,-25.73),(2.03309,-25.41),(2.03340,-25.41),(2.03365,-25.41),(2.03390,-25.61),(2.03415,-25.85),(2.03446,-26.01),(2.03476,-26.06),(2.03507,-25.73),(2.03532,-25.70),(2.03557,-25.98),(2.03583,-26.22),(2.03598,-26.22),(2.03618,-26.55),(2.03639,-26.58),(2.03664,-26.34),(2.03694,-25.92),(2.03720,-25.67),(2.03740,-25.52),(2.03760,-25.65),(2.03780,-25.98),(2.03801,-26.25),(2.03821,-26.06),(2.03846,-25.79),(2.03872,-25.67),(2.03892,-25.92),(2.03912,-25.98),(2.03938,-25.89),(2.03963,-26.10),(2.03983,-26.34),(2.03998,-26.50),(2.04024,-26.30),(2.04054,-26.28),(2.04085,-26.40),(2.04110,-26.04),(2.04130,-25.61),(2.04156,-25.79),(2.04181,-25.89),(2.04211,-25.79),(2.04242,-25.67),(2.04267,-25.82),(2.04297,-26.28),(2.04318,-26.58),(2.04343,-26.62),(2.04373,-26.58),(2.04404,-26.52),(2.04439,-26.28),(2.04465,-26.34),(2.04490,-26.28),(2.04515,-25.98),(2.04541,-25.61),(2.04566,-25.85),(2.04596,-26.01),(2.04637,-26.13),(2.04673,-26.34),(2.04708,-26.22),(2.04743,-26.42),(2.04779,-26.22),(2.04814,-26.13),(2.04835,-26.28),(2.04865,-26.50),(2.04890,-26.28),(2.04921,-26.13),(2.04956,-26.01),(2.04987,-25.94),(2.05017,-26.01),(2.05048,-26.22),(2.05073,-26.25),(2.05098,-26.18),(2.05124,-26.28)]
g3_h2o = [(2.02757,-26.16),(2.02777,-26.10),(2.02792,-25.98),(2.02807,-25.85),(2.02833,-26.01),(2.02853,-25.92),(2.02873,-25.61),(2.02888,-25.85),(2.02909,-26.16),(2.02939,-25.85),(2.02970,-26.13),(2.03000,-25.82),(2.03025,-25.89),(2.03056,-25.58),(2.03081,-26.10),(2.03106,-26.76),(2.03132,-27.01),(2.03152,-26.88),(2.03172,-26.76),(2.03198,-26.79),(2.03223,-26.73),(2.03248,-26.64),(2.03269,-26.28),(2.03294,-25.67),(2.03312,-25.37),(2.03329,-25.73),(2.03355,-26.10),(2.03380,-26.18),(2.03400,-26.58),(2.03420,-26.86),(2.03446,-26.91),(2.03461,-26.82),(2.03481,-27.01),(2.03507,-27.25),(2.03537,-27.37),(2.03557,-27.13),(2.03578,-26.76),(2.03598,-27.01),(2.03618,-27.13),(2.03639,-27.25),(2.03659,-27.73),(2.03674,-28.40),(2.03689,-28.73),(2.03704,-28.34),(2.03720,-27.49),(2.03740,-26.88),(2.03760,-26.86),(2.03780,-26.88),(2.03801,-26.64),(2.03819,-26.34),(2.03841,-26.52),(2.03862,-27.15),(2.03882,-27.22),(2.03902,-27.35),(2.03922,-27.25),(2.03943,-27.01),(2.03963,-26.40),(2.03983,-25.80),(2.04006,-25.45),(2.04029,-25.55),(2.04054,-25.73),(2.04085,-26.10),(2.04105,-26.01),(2.04130,-26.40),(2.04156,-27.01),(2.04186,-27.43),(2.04216,-27.64),(2.04242,-27.07),(2.04267,-26.40),(2.04292,-26.22),(2.04323,-26.76),(2.04343,-26.38),(2.04368,-26.18),(2.04404,-26.16),(2.04429,-26.38),(2.04449,-26.67),(2.04470,-26.42),(2.04495,-26.55),(2.04525,-26.76),(2.04551,-26.85),(2.04581,-27.31),(2.04612,-28.16),(2.04637,-28.34),(2.04662,-27.85),(2.04698,-27.19),(2.04723,-27.43),(2.04749,-28.10),(2.04774,-28.46),(2.04799,-28.48),(2.04824,-28.22),(2.04850,-27.61),(2.04875,-27.25),(2.04900,-26.76),(2.04931,-26.42),(2.04956,-26.64),(2.04982,-27.15),(2.05007,-26.88),(2.05032,-26.76),(2.05053,-26.86),(2.05078,-27.43),(2.05093,-27.67),(2.05108,-27.43),(2.05124,-26.95)]
g3_no_nh3 = [(2.02757,0.717),(2.02772,0.617),(2.02792,0.633),(2.02807,0.640),(2.02828,0.633),(2.02848,0.627),(2.02873,0.400),(2.02899,0.393),(2.02919,0.500),(2.02939,0.523),(2.02951,0.540),(2.02975,0.700),(2.02992,0.700),(2.03020,0.550),(2.03046,0.450),(2.03066,0.357),(2.03091,0.500),(2.03117,0.733),(2.03140,0.860),(2.03157,0.860),(2.03182,0.850),(2.03215,0.773),(2.03238,0.740),(2.03261,0.773),(2.03289,0.717),(2.03309,0.507),(2.03332,0.507),(2.03357,0.650),(2.03380,0.667),(2.03400,0.717),(2.03426,0.773),(2.03456,0.800),(2.03481,0.840),(2.03512,0.917),(2.03537,0.917),(2.03562,0.807),(2.03583,0.717),(2.03603,0.767),(2.03633,0.867),(2.03664,0.940),(2.03684,1.000),(2.03704,1.000),(2.03725,0.933),(2.03750,0.917),(2.03772,0.927),(2.03796,0.833),(2.03823,0.783),(2.03849,0.893),(2.03872,0.883),(2.03897,0.850),(2.03922,0.760),(2.03948,0.683),(2.03983,0.567),(2.04004,0.450),(2.04024,0.307),(2.04044,0.340),(2.04074,0.483),(2.04100,0.633),(2.04120,0.583),(2.04145,0.573),(2.04176,0.783),(2.04196,0.893),(2.04216,0.917),(2.04242,0.900),(2.04272,0.793),(2.04297,0.707),(2.04323,0.793),(2.04348,0.793),(2.04368,0.660),(2.04389,0.660),(2.04414,0.683),(2.04439,0.800),(2.04465,0.740),(2.04490,0.667),(2.04515,0.773),(2.04541,0.850),(2.04586,0.850),(2.04612,0.907),(2.04642,0.960),(2.04678,0.943),(2.04713,0.950),(2.04749,0.983),(2.04789,1.000),(2.04824,0.960),(2.04870,0.867),(2.04906,0.767),(2.04934,0.633),(2.04956,0.700),(2.04982,0.807),(2.05007,0.850),(2.05032,0.833),(2.05058,0.767),(2.05083,0.867),(2.05106,0.940),(2.05124,0.893)]
g3_with_nh3 = [(2.02757,0.517),(2.02772,0.450),(2.02797,0.350),(2.02823,0.373),(2.02848,0.427),(2.02873,0.267),(2.02899,0.160),(2.02919,0.183),(2.02949,0.250),(2.02975,0.317),(2.03000,0.367),(2.03020,0.393),(2.03046,0.350),(2.03066,0.207),(2.03091,0.283),(2.03117,0.517),(2.03142,0.627),(2.03182,0.633),(2.03203,0.607),(2.03238,0.567),(2.03264,0.517),(2.03289,0.417),(2.03312,0.207),(2.03336,0.193),(2.03365,0.267),(2.03390,0.317),(2.03415,0.450),(2.03441,0.540),(2.03458,0.557),(2.03481,0.500),(2.03509,0.400),(2.03537,0.500),(2.03557,0.567),(2.03583,0.573),(2.03618,0.693),(2.03644,0.683),(2.03669,0.573),(2.03694,0.467),(2.03720,0.383),(2.03740,0.407),(2.03765,0.467),(2.03791,0.483),(2.03821,0.533),(2.03841,0.533),(2.03867,0.493),(2.03892,0.510),(2.03922,0.500),(2.03963,0.483),(2.03983,0.393),(2.04004,0.327),(2.04029,0.250),(2.04049,0.267),(2.04074,0.400),(2.04100,0.477),(2.04125,0.367),(2.04150,0.283),(2.04176,0.450),(2.04201,0.457),(2.04247,0.450),(2.04295,0.517),(2.04323,0.650),(2.04348,0.640),(2.04373,0.527),(2.04409,0.540),(2.04444,0.627),(2.04480,0.533),(2.04515,0.427),(2.04541,0.357),(2.04571,0.450),(2.04601,0.533),(2.04637,0.617),(2.04673,0.693),(2.04713,0.700),(2.04753,0.777),(2.04789,0.717),(2.04814,0.683),(2.04855,0.690),(2.04895,0.633),(2.04931,0.433),(2.04956,0.407),(2.04977,0.433),(2.05012,0.517),(2.05058,0.567),(2.05083,0.667),(2.05108,0.700),(2.05124,0.717)]

# Line identifications (um)
g1_nh3_lines = [1.98589]
g1_nh3_maybe = [1.98946]
g1_s12_lines = [1.97370, 1.97853, 1.99371, 1.99722]
g1_s12_maybe = [1.96674, 1.96985, 1.98341]
g1_b11_blend = [1.99006]

g2_nh3_lines = [2.02212, 2.02647]
g2_nh3_blend = [2.00968]
g2_nh3_maybe = [2.00123]
g2_s12_lines = [2.00519, 2.00920, 2.01318, 2.02103, 2.02558]
g2_s12_maybe = [2.01773]

g3_nh3_lines = [2.04149, 2.04983]
g3_s12_lines = [2.03745, 2.03868, 2.04245, 2.04538]
g3_s12_maybe = [2.03507]
g3_s12_blend = [2.02939]

# ---------------------------------------------------------------- style
MAG = '#bf00bf'
VIOLET = '#e07ee0'
GREEN = '#008000'
BLUE = '#6495ed'
CYAN = '#00bfbf'
GRAY_FILL = '#e3e3e3'
PINK_FILL = '#e8cbe8'

LINE_STYLES = {
    'nh3': dict(color=MAG, lw=1.7, ls='-'),
    'nh3_blend': dict(color=MAG, lw=1.7, ls=(0, (3.5, 2))),
    'nh3_maybe': dict(color=VIOLET, lw=1.3, ls=(0, (1, 1.3))),
    's12': dict(color='black', lw=1.8, ls='-'),
    's12_maybe': dict(color='#333333', lw=1.1, ls=(0, (1, 1.5))),
    's12_blend': dict(color='black', lw=1.7, ls=(0, (3.5, 2))),
    'b11_blend': dict(color=CYAN, lw=1.8, ls=(0, (3.5, 2))),
}

W, H = 1008, 1593
fig = plt.figure(figsize=(W / 100, H / 100), dpi=100)


def minus_fmt(fmt):
    return FuncFormatter(lambda v, p: (fmt % v).replace('-', '\u2212'))


def panel(x0, x1, y0, y1):
    return fig.add_axes([x0 / W, 1 - y1 / H, (x1 - x0) / W, (y1 - y0) / H])


def split(pts):
    a = np.array(pts)
    return a[:, 0], a[:, 1]


def style(ax, xlim, ylim, yticks, yfmt, bottom):
    ax.set_xlim(*xlim)
    ax.set_ylim(*ylim)
    ax.xaxis.set_major_locator(MultipleLocator(0.0025))
    ax.xaxis.set_major_formatter(FormatStrFormatter('%.4f'))
    ax.set_yticks(yticks)
    ax.yaxis.set_major_formatter(minus_fmt(yfmt))
    ax.tick_params(axis='x', direction='in', length=7, width=1.1,
                   top=True, bottom=True, labelbottom=bottom)
    ax.tick_params(axis='y', direction='inout', length=6, width=1.1,
                   left=True, right=True)


def mark_lines(ax, lines):
    for key, xs in lines.items():
        for x in xs:
            ax.axvline(x, zorder=5, **LINE_STYLES[key])


def draw_window(rows, xr, xlim, flux, total, ch4, nh3, h2o, no_nh3, with_nh3,
                lines, ylims, yticks, yfmts):
    axes = [panel(xr[0], xr[1], r[0], r[1]) for r in rows]
    a1, a2, a3, a4 = axes

    a1.plot(*split(flux), color='black', lw=1.6, zorder=3)
    a2.plot(*split(total), color='black', lw=1.8, zorder=3)
    a3.plot(*split(ch4), color=GREEN, lw=1.8, zorder=3)
    a3.plot(*split(nh3), color=MAG, lw=1.8, zorder=3)
    a3.plot(*split(h2o), color=BLUE, lw=1.8, zorder=3)

    wn, fn = split(no_nh3)
    ww, fw = split(with_nh3)
    a4.fill_between(wn, 0, fn, color=GRAY_FILL, lw=0, zorder=1)
    a4.fill_between(ww, 0, fw, color=PINK_FILL, lw=0, zorder=2)
    a4.plot(wn, fn, color='black', lw=0.8, zorder=3)
    a4.plot(ww, fw, color=MAG, lw=0.8, zorder=3)

    for i, ax in enumerate(axes):
        style(ax, xlim, ylims[i], yticks[i], yfmts[i], bottom=(i == 3))
        mark_lines(ax, lines)

    a1.set_ylabel('Flux')
    a2.set_ylabel(r'log $\kappa$')
    a3.set_ylabel(r'log $\kappa$')
    a4.set_ylabel('Flux')
    a4.set_xlabel(r'Wavelength ($\mu$m)', fontsize=16, labelpad=1)
    return axes


# ---------------------------------------------------------------- window 1
ax1 = draw_window(
    rows=[(13, 200), (200, 296), (296, 392), (392, 487.3)], xr=(90, 866.7),
    xlim=(1.9650, 1.99833),
    flux=g1_flux, total=g1_total, ch4=g1_ch4, nh3=g1_nh3, h2o=g1_h2o,
    no_nh3=g1_no_nh3, with_nh3=g1_with_nh3,
    lines={'s12_maybe': g1_s12_maybe, 's12': g1_s12_lines, 'nh3': g1_nh3_lines,
           'nh3_maybe': g1_nh3_maybe, 'b11_blend': g1_b11_blend},
    ylims=[(0.083, 0.561), (-26.43, -23.999), (-28.23, -24.11), (0.01, 0.685)],
    yticks=[[0.2, 0.4], [-26, -25, -24], [-28, -26], [0.2, 0.4, 0.6]],
    yfmts=['%.1f', '%d', '%d', '%.1f'])
ax1[0].text(1.96706, 0.40, 'UGPS 0722', fontsize=15.5, va='center', ha='left')

leg_kw = dict(loc='upper left', frameon=False, borderpad=0, borderaxespad=0,
              handlelength=1.1, handletextpad=0.3, labelspacing=0.08, fontsize=15)
proxies = [Line2D([], [], **LINE_STYLES[k]) for k in
           ['nh3', 'nh3_blend', 'nh3_maybe', 's12', 's12_maybe', 's12_blend', 'b11_blend']]
ax1[0].legend(proxies,
              ['NH$_3$', 'NH$_3$ blend', '?NH$_3$', 'NH$_3$ (S12)', '?NH$_3$ (S12)',
               'NH$_3$ blend\n(S12)', 'NH$_3$ blend\n(B11)'],
              bbox_to_anchor=(1.0068, 1.053), **leg_kw)
ax1[1].legend([Line2D([], [], color='black', lw=1.8)], ['CH$_4$+NH$_3$\n+H$_2$O'],
              bbox_to_anchor=(1.0068, 0.758), **leg_kw)
ax1[2].legend([Line2D([], [], color=c, lw=1.8) for c in (GREEN, MAG, BLUE)],
              ['CH$_4$', 'NH$_3$', 'H$_2$O'],
              bbox_to_anchor=(1.0068, 0.857), **leg_kw)
ax1[3].legend([Line2D([], [], color='black', lw=0.8), Line2D([], [], color=MAG, lw=0.8)],
              ['No NH$_3$', 'With NH$_3$'],
              bbox_to_anchor=(1.0068, 0.746), **leg_kw)

# ---------------------------------------------------------------- window 2
draw_window(
    rows=[(608, 709), (709, 810.7), (810.7, 912), (912, 1013)], xr=(90, 868),
    xlim=(1.99830, 2.02768),
    flux=g2_flux, total=g2_total, ch4=g2_ch4, nh3=g2_nh3, h2o=g2_h2o,
    no_nh3=g2_no_nh3, with_nh3=g2_with_nh3,
    lines={'nh3_maybe': g2_nh3_maybe, 's12': g2_s12_lines, 'nh3_blend': g2_nh3_blend,
           's12_maybe': g2_s12_maybe, 'nh3': g2_nh3_lines},
    ylims=[(0.165, 0.694), (-26.71, -24.64), (-28.55, -24.6), (0.0, 0.965)],
    yticks=[[0.2, 0.4, 0.6], [-26, -25], [-28, -27, -26, -25], [0.2, 0.4, 0.6, 0.8]],
    yfmts=['%.1f', '%d', '%d', '%.1f'])

# ---------------------------------------------------------------- window 3
draw_window(
    rows=[(1143, 1243), (1243, 1344), (1344, 1446), (1446, 1547)], xr=(90, 868),
    xlim=(2.02757, 2.05124),
    flux=g3_flux, total=g3_total, ch4=g3_ch4, nh3=g3_nh3, h2o=g3_h2o,
    no_nh3=g3_no_nh3, with_nh3=g3_with_nh3,
    lines={'s12_blend': g3_s12_blend, 's12_maybe': g3_s12_maybe, 's12': g3_s12_lines,
           'nh3': g3_nh3_lines},
    ylims=[(0.304, 0.895), (-26.55, -25.0), (-28.92, -25.21), (0.063, 1.073)],
    yticks=[[0.4, 0.6, 0.8], [-26.5, -26.0, -25.5], [-28, -27, -26], [0.5, 1.0]],
    yfmts=['%.1f', '%.1f', '%d', '%.1f'])

fig.savefig('out.png', dpi=100)
